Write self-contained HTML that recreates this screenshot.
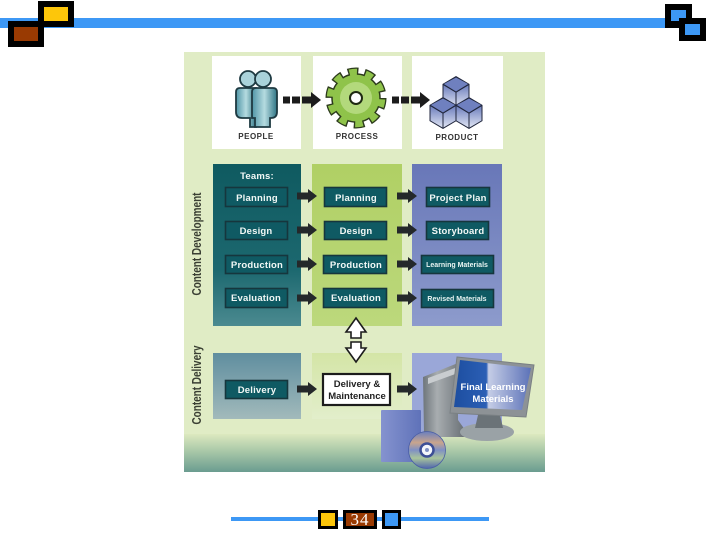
<!DOCTYPE html>
<html><head><meta charset="utf-8"><style>
html,body{margin:0;padding:0;background:#fff;width:720px;height:540px;overflow:hidden}
svg{display:block;filter:blur(.35px)}
text{font-family:"Liberation Sans",sans-serif;font-weight:bold;text-anchor:middle}
.b{fill:#0f5a63;stroke:#16363d;stroke-width:1.6}
.t{fill:#f2f8f6;font-size:9.5px;letter-spacing:.2px}
.s{fill:#e8f4f2;font-size:7px}
.l{fill:#333;font-size:8px;letter-spacing:.5px}
.v{fill:#3a3f33;font-size:13px}
</style></head><body>
<svg width="720" height="540" viewBox="0 0 720 540" xmlns="http://www.w3.org/2000/svg">
<defs>
<linearGradient id="ft" x1="0" y1="0" x2="0" y2="1"><stop offset="0" stop-color="#dce9bf"/><stop offset=".45" stop-color="#a9c8a8"/><stop offset="1" stop-color="#6a9c90"/></linearGradient>
<linearGradient id="tm" x1="0" y1="0" x2="0" y2="1"><stop offset="0" stop-color="#0f5a60"/><stop offset=".65" stop-color="#1c686f"/><stop offset="1" stop-color="#4b8a90"/></linearGradient>
<linearGradient id="gr" x1="0" y1="0" x2="0" y2="1"><stop offset="0" stop-color="#b0d064"/><stop offset="1" stop-color="#bcd87c"/></linearGradient>
<linearGradient id="bl" x1="0" y1="0" x2="0" y2="1"><stop offset="0" stop-color="#6877b8"/><stop offset="1" stop-color="#8d9bcc"/></linearGradient>
<linearGradient id="dl" x1="0" y1="0" x2="0" y2="1"><stop offset="0" stop-color="#5f8e9f"/><stop offset="1" stop-color="#a2babb"/></linearGradient>
<linearGradient id="dm" x1="0" y1="0" x2="0" y2="1"><stop offset="0" stop-color="#d4e5a6"/><stop offset="1" stop-color="#e2eecb"/></linearGradient>
<linearGradient id="pb" x1="0" y1="0" x2="1" y2="0"><stop offset="0" stop-color="#4f95a6"/><stop offset=".5" stop-color="#b5dbe0"/><stop offset="1" stop-color="#2f7585"/></linearGradient>
<linearGradient id="cu" x1="0" y1="0" x2="0" y2="1"><stop offset="0" stop-color="#6e7fbd"/><stop offset="1" stop-color="#dfe4f3"/></linearGradient>
<linearGradient id="sc" x1="0" y1="0" x2="1" y2="0"><stop offset="0" stop-color="#1d4ea0"/><stop offset=".42" stop-color="#2b5fb5"/><stop offset=".45" stop-color="#c5cde6"/><stop offset="1" stop-color="#5c72b8"/></linearGradient>
<linearGradient id="tw" x1="0" y1="0" x2="1" y2="0"><stop offset="0" stop-color="#6e757b"/><stop offset=".3" stop-color="#a8adb0"/><stop offset="1" stop-color="#5d646a"/></linearGradient>
<linearGradient id="cd" x1="0" y1="0" x2="0" y2="1"><stop offset="0" stop-color="#6a7fbe"/><stop offset=".3" stop-color="#c9a58d"/><stop offset=".5" stop-color="#7f90c4"/><stop offset=".72" stop-color="#a8c49c"/><stop offset="1" stop-color="#4f66ad"/></linearGradient>
<linearGradient id="cs" x1="0" y1="0" x2="1" y2="0"><stop offset="0" stop-color="#8593cf"/><stop offset="1" stop-color="#5f72b9"/></linearGradient>
<path id="ar" d="M0-3.5H11V-7L20 0 11 7V3.5H0Z" fill="#24282a"/>
<g id="pa"><rect x="0" y="-3.5" width="7" height="7" fill="#1c1c1c"/><rect x="9" y="-3.5" width="8" height="7" fill="#1c1c1c"/><path d="M19-3.5H28V-8L38 0 28 8V3.5H19Z" fill="#1c1c1c"/></g>
<g id="cube"><path d="M0-16 13.500-8V8L0 16-13.500 8V-8Z" fill="#20263c"/><path d="M0-14.500 12.200-8 0-.5-12.200-8Z" fill="#6f80bf"/><path d="M-12.500-6.800-.5 .5V14.500L-12.500 7.500Z" fill="url(#cu)"/><path d="M12.500-6.800 .5 .5V14.500L12.500 7.500Z" fill="url(#cu)"/></g>
</defs>

<!-- top bar -->
<rect x="0" y="18" width="672" height="10" fill="#3d98f5"/>
<rect x="38" y="1" width="36" height="26" fill="#000"/><rect x="44" y="7" width="24" height="14" fill="#fdc60a"/>
<rect x="8" y="21" width="36" height="26" fill="#000"/><rect x="14" y="27" width="24" height="14" fill="#993a02"/>
<rect x="665" y="4" width="27" height="24" fill="#000"/><rect x="671" y="10" width="15" height="11" fill="#3d98f5"/>
<rect x="679" y="18" width="27" height="23" fill="#000"/><rect x="685" y="24" width="15" height="11" fill="#3d98f5"/>

<!-- panel -->
<rect x="184" y="52" width="361" height="384" fill="#e0ecc5"/>
<rect x="184" y="434" width="361" height="38" fill="url(#ft)"/>
<rect x="212" y="56" width="89" height="93" fill="#fff"/>
<rect x="313" y="56" width="89" height="93" fill="#fff"/>
<rect x="412" y="56" width="91" height="93" fill="#fff"/>

<!-- people -->
<circle cx="248" cy="79" r="8" fill="#a9d2da" stroke="#1e3a42" stroke-width="1.8"/>
<circle cx="263" cy="79" r="8" fill="#a9d2da" stroke="#1e3a42" stroke-width="1.8"/>
<path d="M236 92q0-4 4-4h16v39h-6v-9h-8q-6 0-6-6Z" fill="url(#pb)" stroke="#1e3a42" stroke-width="1.8"/>
<path d="M252 92q0-4 4-4h17q4 0 4 4v20q0 6-6 6h-1v9h-15v-9h-3Z" fill="url(#pb)" stroke="#1e3a42" stroke-width="1.8"/>
<text x="256" y="139" class="l">PEOPLE</text>

<!-- process gear -->
<circle cx="356" cy="98" r="24" fill="none" stroke="#2c3a1c" stroke-width="13" stroke-dasharray="9.500 5.580"/>
<circle cx="356" cy="98" r="24" fill="#8fc34a" stroke="#2c3a1c" stroke-width="1.500"/>
<circle cx="356" cy="98" r="24" fill="none" stroke="#8fc34a" stroke-width="10.500" stroke-dasharray="7 8.080" stroke-dashoffset="-1.250"/>
<circle cx="356" cy="98" r="16" fill="#b3d97c"/>
<circle cx="356" cy="98" r="6" fill="#fff" stroke="#1f2a12" stroke-width="2"/>
<text x="357" y="139" class="l">PROCESS</text>

<!-- product cubes -->
<use href="#cube" x="456" y="92"/>
<use href="#cube" x="443" y="113"/>
<use href="#cube" x="469" y="113"/>
<text x="457" y="140" class="l">PRODUCT</text>

<use href="#pa" x="283" y="100"/>
<use href="#pa" x="392" y="100"/>

<!-- columns -->
<rect x="213" y="164" width="88" height="162" fill="url(#tm)"/>
<rect x="312" y="164" width="90" height="162" fill="url(#gr)"/>
<rect x="412" y="164" width="90" height="162" fill="url(#bl)"/>
<rect x="213" y="353" width="88" height="66" fill="url(#dl)"/>
<rect x="312" y="353" width="90" height="66" fill="url(#dm)"/>

<text x="0" y="0" transform="translate(201 244) rotate(-90)" class="v" textLength="103" lengthAdjust="spacingAndGlyphs">Content Development</text>
<text x="0" y="0" transform="translate(201 385) rotate(-90)" class="v" textLength="79" lengthAdjust="spacingAndGlyphs">Content Delivery</text>

<text x="257" y="179" class="t">Teams:</text>

<rect class="b" x="225.500" y="187.500" width="62" height="19"/><text x="257" y="201" class="t">Planning</text>
<rect class="b" x="225.500" y="221.500" width="62" height="18"/><text x="256" y="234" class="t">Design</text>
<rect class="b" x="225.500" y="255.500" width="62" height="18"/><text x="257" y="268" class="t">Production</text>
<rect class="b" x="225.500" y="288.500" width="62" height="19"/><text x="256" y="301" class="t">Evaluation</text>

<rect class="b" x="324.500" y="187.500" width="62" height="19"/><text x="356" y="201" class="t">Planning</text>
<rect class="b" x="324.500" y="221.500" width="62" height="18"/><text x="356" y="234" class="t">Design</text>
<rect class="b" x="323.500" y="255.500" width="63" height="18"/><text x="356" y="268" class="t">Production</text>
<rect class="b" x="323.500" y="288.500" width="63" height="19"/><text x="356" y="301" class="t">Evaluation</text>

<rect class="b" x="426.500" y="187.500" width="63" height="19"/><text x="458" y="201" class="t">Project Plan</text>
<rect class="b" x="426.500" y="221.500" width="62" height="18"/><text x="458" y="234" class="t">Storyboard</text>
<rect class="b" x="421.500" y="255.500" width="72" height="18"/><text x="457" y="267" class="s">Learning Materials</text>
<rect class="b" x="421.500" y="289.500" width="72" height="18"/><text x="457" y="301" class="s">Revised Materials</text>

<use href="#ar" x="297" y="196"/><use href="#ar" x="297" y="230"/><use href="#ar" x="297" y="264"/><use href="#ar" x="297" y="298"/>
<use href="#ar" x="397" y="196"/><use href="#ar" x="397" y="230"/><use href="#ar" x="397" y="264"/><use href="#ar" x="397" y="298"/>

<!-- double arrows -->
<path d="M356 318 366 332H361V338H351V332H346Z" fill="#fff" stroke="#1c1c1c" stroke-width="1.600"/>
<path d="M356 362 366 348H361V342H351V348H346Z" fill="#fff" stroke="#1c1c1c" stroke-width="1.600"/>

<!-- delivery row -->
<rect class="b" x="225.500" y="380.500" width="62" height="18"/><text x="257" y="393" class="t">Delivery</text>
<use href="#ar" x="297" y="389"/>
<rect x="323" y="374" width="67" height="31" fill="#fff" stroke="#1c1c1c" stroke-width="2.200"/>
<text x="357" y="387" fill="#222" style="font-size:9.500px">Delivery &amp;</text>
<text x="357" y="399" fill="#222" style="font-size:9.500px">Maintenance</text>

<!-- computer -->
<rect x="412" y="353" width="90" height="80" fill="#9aa7d8"/>
<path d="M423 377 458 363V420L470 437H430L424 432Z" fill="url(#tw)"/>
<path d="M428 378 458 367V373L428 384Z" fill="#c9cdd0"/>
<ellipse cx="487" cy="432" rx="27" ry="9" fill="#9aa2a6"/>
<path d="M478 415H500L503 428H475Z" fill="#6b7378"/>
<path d="M457 357 534 365 526 417 450 413Z" fill="#8d9296" stroke="#7a8084" stroke-width="1"/>
<path d="M460 360 531 368 522 410 454 407Z" fill="url(#sc)"/>
<text x="493" y="390" fill="#fff" style="font-size:9.500px">Final Learning</text>
<text x="493" y="402" fill="#fff" style="font-size:9.500px">Materials</text>
<use href="#ar" x="397" y="389"/>
<rect x="381" y="410" width="40" height="52" rx="1" fill="url(#cs)"/>
<circle cx="427" cy="450" r="18.500" fill="url(#cd)" stroke="#4a5ea6" stroke-width=".8"/>
<circle cx="427" cy="450" r="6.500" fill="#f4f6fb" stroke="#3d4f96" stroke-width="2.500"/>
<circle cx="427" cy="450" r="2" fill="#7f90c4"/>

<!-- footer -->
<rect x="231" y="517" width="258" height="4" fill="#3d98f5"/>
<rect x="318" y="510" width="20" height="19" fill="#000"/><rect x="321" y="513" width="14" height="13" fill="#fdc60a"/>
<rect x="343" y="510" width="34" height="19" fill="#000"/><rect x="346" y="513" width="28" height="13" fill="#993a02"/>
<rect x="382" y="510" width="19" height="19" fill="#000"/><rect x="385" y="513" width="13" height="13" fill="#3d98f5"/>
<text x="360" y="525" fill="#fff" style="font-family:'Liberation Serif',serif;font-weight:normal;font-size:17px;letter-spacing:1px">34</text>
</svg>
</body></html>
